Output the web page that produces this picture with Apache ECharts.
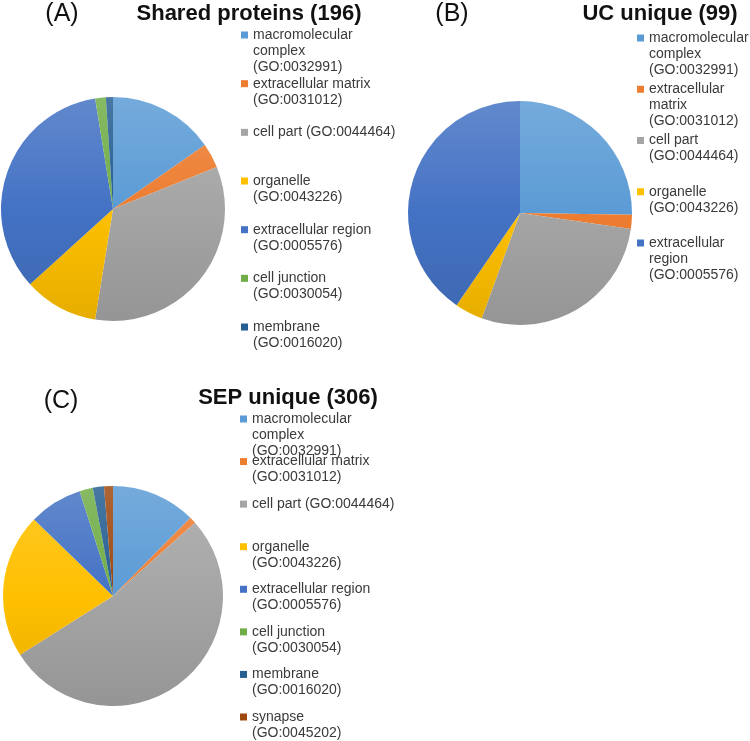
<!DOCTYPE html>
<html>
<head>
<meta charset="utf-8">
<script src="https://cdn.jsdelivr.net/npm/echarts@6/dist/echarts.min.js"></script>
<style>
html,body{margin:0;padding:0;background:#fff;}
#chart{width:750px;height:741px;}
</style>
</head>
<body>
<div id="chart"></div>
<script>
// ---- data ----
const categories = ['macromolecular complex', 'extracellular matrix', 'cell part', 'organelle',
  'extracellular region', 'cell junction', 'membrane', 'synapse'];
const goIds = ['GO:0032991', 'GO:0031012', 'GO:0044464', 'GO:0043226',
  'GO:0005576', 'GO:0030054', 'GO:0016020', 'GO:0045202'];
const sharedCounts = [30, 7, 66, 21, 67, 3, 2];      // (A) Shared proteins (196)
const ucCounts = [25, 2, 28, 4, 40];                  // (B) UC unique (99)
const sepCounts = [38, 3, 161, 65, 24, 6, 5, 4];      // (C) SEP unique (306)
const panelTitles = ['Shared proteins (196)', 'UC unique (99)', 'SEP unique (306)'];
const panelLetters = ['(A)', '(B)', '(C)'];

// ---- styles ----
const baseColors = ['#5B9BD5', '#ED7D31', '#A5A5A5', '#FFC000', '#4472C4', '#70AD47', '#255E91', '#9E480E'];
function mix(hex, target, t) {
  const n = parseInt(hex.slice(1), 16);
  const r = (n >> 16) & 255, g = (n >> 8) & 255, b = n & 255;
  const f = c => Math.round(c + (target - c) * t);
  return 'rgb(' + f(r) + ',' + f(g) + ',' + f(b) + ')';
}
// legend line wrapping per panel (text layout only)
const wrapA = {
  'macromolecular complex': ['macromolecular', 'complex'],
  'extracellular matrix': ['extracellular matrix'],
  'cell part': ['cell part (GO:0044464)'],
  'organelle': ['organelle'],
  'extracellular region': ['extracellular region'],
  'cell junction': ['cell junction'],
  'membrane': ['membrane'],
  'synapse': ['synapse']
};
const wrapB = Object.assign({}, wrapA, {
  'extracellular matrix': ['extracellular', 'matrix'],
  'cell part': ['cell part'],
  'extracellular region': ['extracellular', 'region']
});
const panels = [
  { counts: sharedCounts, center: [113, 209], r: 112, wrap: wrapA,
    legendLeft: 241, legendTop: 27, gap: 0.67,
    letter: [62, 0], title: [249, 1] },
  { counts: ucCounts, center: [520, 213], r: 112, wrap: wrapB,
    legendLeft: 637, legendTop: 30, gap: 3.25,
    letter: [452, 0], title: [660, 1] },
  { counts: sepCounts, center: [113, 596], r: 110, wrap: wrapA,
    legendLeft: 240, legendTop: 411, gap: -5.43,
    letter: [61, 387], title: [288, 385] }
];

function legendLines(wrap, name) {
  const idx = categories.indexOf(name);
  let lines = wrap[name].slice();
  if (!lines[lines.length - 1].includes('(GO:')) lines.push('(' + goIds[idx] + ')');
  while (lines.length < 3) lines.push('');
  return lines.join('\n');
}

const iconPath = 'path://M0,0L0,0M0,4.5L7,4.5L7,11.5L0,11.5ZM0,48L0,48';

const option = {
  backgroundColor: '#ffffff',
  animation: false,
  title: [],
  legend: [],
  series: []
};

panels.forEach((p, pi) => {
  const top = p.center[1] - p.r, bottom = p.center[1] + p.r;
  const names = categories.slice(0, p.counts.length);
  option.series.push({
    type: 'pie',
    center: p.center,
    radius: [0, p.r],
    startAngle: 90,
    clockwise: true,
    label: { show: false },
    labelLine: { show: false },
    emphasis: { scale: false },
    itemStyle: { borderWidth: 0 },
    data: names.map((n, i) => ({
      name: n,
      value: p.counts[i],
      itemStyle: {
        color: {
          type: 'linear', x: 0, y: top, x2: 0, y2: bottom, global: true,
          colorStops: [
            { offset: 0, color: mix(baseColors[i], 255, 0.16) },
            { offset: 0.5, color: baseColors[i] },
            { offset: 1, color: mix(baseColors[i], 0, 0.1) }
          ]
        }
      }
    }))
  });
  option.legend.push({
    orient: 'vertical',
    left: p.legendLeft,
    top: p.legendTop,
    height: 400,
    padding: 0,
    itemWidth: 7,
    itemHeight: 48,
    itemGap: p.gap,
    icon: iconPath,
    symbolKeepAspect: false,
    selectedMode: false,
    textStyle: { fontFamily: 'Liberation Sans, Arial, sans-serif', fontSize: 14, lineHeight: 16, color: '#3a3a3a' },
    formatter: name => legendLines(p.wrap, name),
    data: names.map((n, i) => ({ name: n, itemStyle: { color: baseColors[i] } }))
  });
  option.title.push({
    text: panelLetters[pi],
    left: p.letter[0], top: p.letter[1], textAlign: 'center', padding: 0,
    textStyle: { fontFamily: 'Liberation Sans, Arial, sans-serif', fontWeight: 'normal', fontSize: 25, lineHeight: 28, color: '#111' }
  });
  option.title.push({
    text: panelTitles[pi],
    left: p.title[0], top: p.title[1], textAlign: 'center', padding: 0,
    textStyle: { fontFamily: 'Liberation Sans, Arial, sans-serif', fontWeight: 'bold', fontSize: 22, lineHeight: 26, color: '#111' }
  });
});

const chart = echarts.init(document.getElementById('chart'), null, { renderer: 'canvas' });
chart.setOption(option);
</script>
</body>
</html>
